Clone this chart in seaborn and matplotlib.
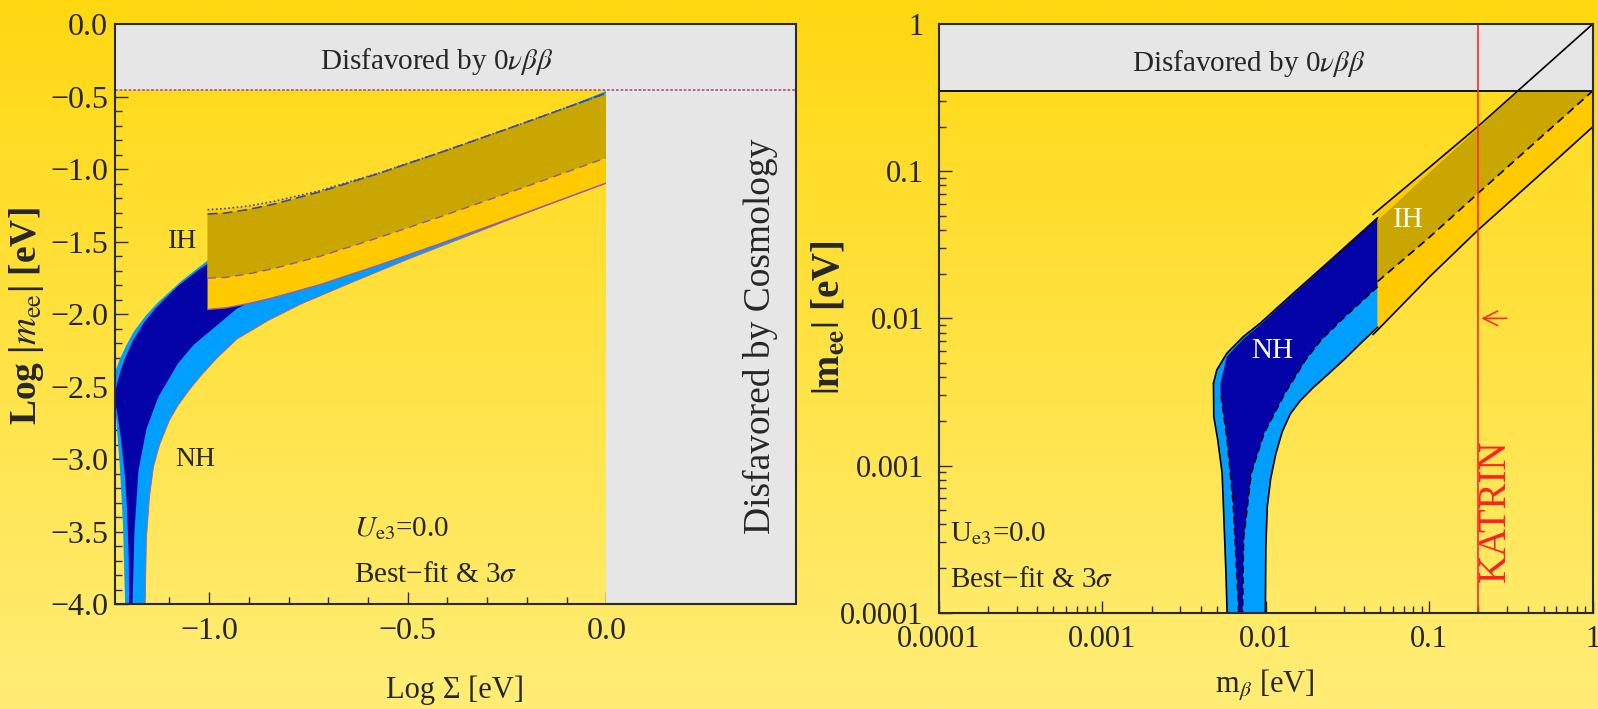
import numpy as np
import matplotlib
matplotlib.use("Agg")
import matplotlib.pyplot as plt
import seaborn as sns
from matplotlib.ticker import FixedLocator, FixedFormatter, NullFormatter, LogLocator, MultipleLocator

# ---------------- data ----------------
# Left panel: x = log10(Sigma / eV), y = log10(|m_ee| / eV)
nh_bf_max_x = [-1.239, -1.2306, -1.222, -1.2125, -1.1919, -1.164, -1.135, -1.078, -1.0235, -0.9256, -0.7676, -0.5062, -0.2175, 0.0]
nh_bf_max_y = [-2.57, -2.467, -2.382, -2.307, -2.182, -2.058, -1.958, -1.803, -1.687, -1.517, -1.299, -1.000, -0.699, -0.480]
nh_bf_minL_x = [-1.239, -1.2306, -1.222, -1.2125, -1.2075, -1.2024, -1.2005]
nh_bf_minL_y = [-2.57, -2.693, -2.857, -3.10, -3.30, -3.67, -4.3]
nh_bf_minR_x = [-1.1955, -1.193, -1.188, -1.178, -1.158, -1.128, -1.079, -1.039, -0.930, -0.770, -0.500, -0.200, 0.0]
nh_bf_minR_y = [-4.3, -4.0, -3.50, -3.08, -2.79, -2.57, -2.34, -2.21, -1.96, -1.74, -1.43, -1.13, -0.93]

nh_3s_max_x = [-1.27, -1.237, -1.225, -1.21, -1.19, -1.16, -1.13, -1.07, -1.0, -0.90, -0.77, -0.50, -0.20, 0.0]
nh_3s_max_y = [-2.55, -2.40, -2.31, -2.22, -2.12, -2.01, -1.92, -1.77, -1.62, -1.47, -1.28, -0.98, -0.68, -0.46]
nh_3s_minL_x = [-1.27, -1.237, -1.233, -1.224, -1.217, -1.2116, -1.2105]
nh_3s_minL_y = [-2.62, -2.62, -2.75, -3.09, -3.44, -4.0, -4.3]
nh_3s_minR_x = [-1.162, -1.161, -1.158, -1.150, -1.140, -1.125, -1.100, -1.079, -1.050, -1.020, -0.980, -0.930,
                -0.850, -0.770, -0.650, -0.500, -0.350, -0.200, 0.0]
nh_3s_minR_y = [-4.3, -4.0, -3.55, -3.25, -3.05, -2.90, -2.73, -2.63, -2.52, -2.42, -2.30, -2.17,
                -2.04, -1.93, -1.79, -1.62, -1.46, -1.30, -1.095]

ih_x = [-1.004, -0.9586, -0.9002, -0.839, -0.7212, -0.5725, -0.4211, -0.2134, 0.0]
ih_bf_max = [-1.308, -1.301, -1.276, -1.241, -1.155, -1.028, -0.887, -0.686, -0.475]
ih_3s_max = [-1.278, -1.270, -1.252, -1.222, -1.147, -1.025, -0.886, -0.686, -0.475]
ih_bf_min = [-1.750, -1.745, -1.720, -1.685, -1.600, -1.470, -1.330, -1.130, -0.920]
ih_3s_min = [-1.966, -1.955, -1.925, -1.885, -1.795, -1.660, -1.515, -1.310, -1.094]

bound_0vbb_log = -0.45      # log10 of 0vbb bound
cosmo_log = 0.0             # log10 Sigma cosmology bound

# Right panel: x = m_beta [eV], y = |m_ee| [eV]
r_nh3_up_x = [4.78e-3, 5.01e-3, 5.77e-3, 7.28e-3, 9.23e-3, 1.47e-2, 2.51e-2, 4.83e-2]
r_nh3_up_y = [3.62e-3, 4.46e-3, 5.79e-3, 7.52e-3, 9.27e-3, 1.48e-2, 2.51e-2, 4.83e-2]
r_nh3_loR_x = [4.83e-2, 3.80e-2, 3.01e-2, 2.40e-2, 1.95e-2, 1.62e-2, 1.41e-2, 1.26e-2, 1.15e-2, 1.07e-2,
               1.02e-2, 1.00e-2, 9.93e-3, 9.91e-3]
r_nh3_loR_y = [8.71e-3, 6.76e-3, 5.25e-3, 4.17e-3, 3.39e-3, 2.75e-3, 2.24e-3, 1.70e-3, 1.20e-3, 8.13e-4,
               5.25e-4, 2.82e-4, 1.0e-4, 5.0e-5]
r_nh3_loL_x = [5.77e-3, 5.79e-3, 5.70e-3, 5.55e-3, 5.40e-3, 5.08e-3, 4.80e-3, 4.78e-3]
r_nh3_loL_y = [5.0e-5, 1.02e-4, 1.85e-4, 4.06e-4, 8.87e-4, 1.49e-3, 2.15e-3, 3.62e-3]

r_nhbf_up_x = [5.27e-3, 5.50e-3, 5.77e-3, 7.28e-3, 9.23e-3, 1.47e-2, 2.51e-2, 4.83e-2]
r_nhbf_up_y = [3.63e-3, 4.37e-3, 5.50e-3, 7.24e-3, 9.02e-3, 1.45e-2, 2.48e-2, 4.79e-2]
r_nhbf_loR_x = [4.83e-2, 2.90e-2, 2.18e-2, 1.75e-2, 1.31e-2, 9.77e-3, 8.15e-3, 7.31e-3, 7.21e-3, 7.19e-3]
r_nhbf_loR_y = [1.64e-2, 9.75e-3, 7.13e-3, 5.21e-3, 3.10e-3, 1.66e-3, 8.87e-4, 3.13e-4, 1.02e-4, 5.0e-5]
r_nhbf_loL_x = [6.79e-3, 6.81e-3, 6.32e-3, 5.79e-3, 5.27e-3]
r_nhbf_loL_y = [5.0e-5, 1.02e-4, 5.26e-4, 1.49e-3, 3.16e-3]

r_ihbf_top_x = [4.83e-2, 0.1, 0.316, 1.0]
r_ihbf_top_y = [4.62e-2, 9.77e-2, 0.313, 0.989]
r_ihbf_lo_x = [4.83e-2, 0.1, 0.199, 0.447, 1.0]
r_ihbf_lo_y = [1.78e-2, 3.55e-2, 7.08e-2, 0.158, 0.351]
r_ih3_top_x = [4.52e-2, 4.83e-2, 0.1, 0.199, 1.0]
r_ih3_top_y = [5.07e-2, 5.40e-2, 0.106, 0.202, 1.0]
r_ih3_lo_x = [4.52e-2, 4.83e-2, 0.1, 0.199, 0.447, 1.0]
r_ih3_lo_y = [7.76e-3, 8.34e-3, 1.91e-2, 3.99e-2, 8.91e-2, 0.200]

bound_0vbb = 0.35
katrin = 0.2
katrin_arrow_from = 0.31
katrin_arrow_y = 0.01

left_yticks = [0.0, -0.5, -1.0, -1.5, -2.0, -2.5, -3.0, -3.5, -4.0]
left_ytick_labels = ["0.0", "\u22120.5", "\u22121.0", "\u22121.5", "\u22122.0", "\u22122.5", "\u22123.0", "\u22123.5", "\u22124.0"]
left_xticks = [-1.0, -0.5, 0.0]
left_xtick_labels = ["\u22121.0", "\u22120.5", "0.0"]
right_ticks = [1e-4, 1e-3, 1e-2, 1e-1, 1.0]
right_tick_labels = ["0.0001", "0.001", "0.01", "0.1", "1"]

# ---------------- style ----------------
sns.set_theme(style="white")
plt.rcParams["font.family"] = ["Liberation Serif", "DejaVu Serif"]
plt.rcParams["mathtext.fontset"] = "stix"

DARK_BLUE = "#0303A8"
LIGHT_BLUE = "#009EFF"
GOLD = "#C9A600"
ORANGE = "#FFCB00"
GREY = "#E6E6E6"
SPINE = "#2A2A2A"

fig = plt.figure(figsize=(15.98, 7.09), dpi=100)

# background gradient
bg = fig.add_axes([0, 0, 1, 1], zorder=-10)
top = np.array([255, 216, 18]) / 255.0
bot = np.array([255, 237, 118]) / 255.0
t = np.linspace(0, 1, 256)[:, None]
grad = (top[None, :] * (1 - t) + bot[None, :] * t)[:, None, :]
bg.imshow(grad, aspect="auto", extent=[0, 1, 0, 1], origin="upper")
bg.set_axis_off()

ax1 = fig.add_axes([0.07197, 0.1474, 0.4260, 0.8183])
ax2 = fig.add_axes([0.5876, 0.1358, 0.4091, 0.8303])
for ax in (ax1, ax2):
    ax.set_facecolor("none")
    for s in ax.spines.values():
        s.set_color(SPINE)
        s.set_linewidth(1.5)
        s.set_visible(True)
        s.set_zorder(10)

# ---------------- left panel ----------------
ax1.fill(nh_3s_max_x + nh_3s_minR_x[::-1] + nh_3s_minL_x[::-1],
         nh_3s_max_y + nh_3s_minR_y[::-1] + nh_3s_minL_y[::-1], color=LIGHT_BLUE, lw=0, zorder=2)
ax1.fill(nh_bf_max_x + nh_bf_minR_x[::-1] + nh_bf_minL_x[::-1],
         nh_bf_max_y + nh_bf_minR_y[::-1] + nh_bf_minL_y[::-1], color=DARK_BLUE, lw=0, zorder=2.5)
ax1.fill(ih_x + ih_x[::-1], ih_3s_max + ih_3s_min[::-1], color=ORANGE, lw=0, zorder=3)
ax1.fill(ih_x + ih_x[::-1], ih_bf_max + ih_bf_min[::-1], color=GOLD, lw=0, zorder=3.5)

sns.lineplot(x=nh_3s_minR_x, y=nh_3s_minR_y, ax=ax1, sort=False, estimator=None, color="#C05A7A", lw=0.6, zorder=3.2)
sns.lineplot(x=ih_x, y=ih_3s_min, ax=ax1, sort=False, estimator=None, color="#9A5AB0", lw=1.0, zorder=4)
sns.lineplot(x=ih_x, y=ih_bf_min, ax=ax1, sort=False, estimator=None, color="#8A5AB0", lw=1.0, linestyle=(0, (6, 4)), zorder=4)
sns.lineplot(x=ih_x, y=ih_bf_max, ax=ax1, sort=False, estimator=None, color="#3A4AB0", lw=1.2, linestyle=(0, (6, 3)), zorder=4)
sns.lineplot(x=ih_x, y=ih_3s_max, ax=ax1, sort=False, estimator=None, color="#3A4AB0", lw=1.2, linestyle=(0, (1, 1.5)), zorder=4)

ax1.axhspan(bound_0vbb_log, 0.0, color=GREY, lw=0, zorder=5)
ax1.axvspan(cosmo_log, 0.477, color=GREY, lw=0, zorder=5)
ax1.axhline(bound_0vbb_log, color="#B05C8C", lw=1.3, linestyle=(0, (1.5, 1)), zorder=6)

ax1.set_xlim(-1.237, 0.477)
ax1.set_ylim(-4.0, 0.0)
ax1.xaxis.set_major_locator(FixedLocator(left_xticks))
ax1.xaxis.set_major_formatter(FixedFormatter(left_xtick_labels))
ax1.xaxis.set_minor_locator(MultipleLocator(0.1))
ax1.yaxis.set_major_locator(FixedLocator(left_yticks))
ax1.yaxis.set_major_formatter(FixedFormatter(left_ytick_labels))
ax1.yaxis.set_minor_locator(MultipleLocator(0.1))
ax1.tick_params(axis="both", which="both", direction="in", color=SPINE, width=1.0,
                top=False, right=False, left=True, bottom=True, zorder=11)
ax1.tick_params(axis="both", which="major", length=9)
ax1.tick_params(axis="both", which="minor", length=5)
ax1.tick_params(axis="y", which="major", labelsize=23, pad=5)
ax1.tick_params(axis="x", which="major", labelsize=23, pad=9)
ax1.set_xlabel("")
ax1.set_ylabel("")

ax1.text(-0.427, -0.257, r"Disfavored by 0$\nu\beta\beta$", fontsize=21, ha="center", va="center", zorder=7)
ax1.text(0.387, -2.15, "Disfavored by Cosmology", fontsize=27, rotation=90, ha="center", va="center", zorder=7)
ax1.text(-1.066, -1.496, "IH", fontsize=20, ha="center", va="center", zorder=7)
ax1.text(-1.034, -3.0, "NH", fontsize=20, ha="center", va="center", zorder=7)
ax1.text(-0.636, -3.474, r"$U_{\rm e3}$=0.0", fontsize=21, ha="left", va="center", zorder=7)
ax1.text(-0.636, -3.797, "Best\u2212fit & 3$\\sigma$", fontsize=21, ha="left", va="center", zorder=7)

fig.text(0.0163, 0.554, r"Log |$m_{\rm ee}$| [eV]", rotation=90, fontsize=27, fontweight="bold",
         ha="center", va="center")
fig.text(0.2847, 0.0268, "Log \u03a3 [eV]", fontsize=22, ha="center", va="center")

# ---------------- right panel ----------------
ax2.set_xscale("log")
ax2.set_yscale("log")
ax2.fill(r_nh3_up_x + r_nh3_loR_x + r_nh3_loL_x, r_nh3_up_y + r_nh3_loR_y + r_nh3_loL_y,
         color=LIGHT_BLUE, lw=0, zorder=2)
ax2.fill(r_nhbf_up_x + r_nhbf_loR_x + r_nhbf_loL_x, r_nhbf_up_y + r_nhbf_loR_y + r_nhbf_loL_y,
         color=DARK_BLUE, lw=0, zorder=2.5)
ax2.fill(r_ih3_top_x[1:] + r_ih3_lo_x[1:][::-1], r_ih3_top_y[1:] + r_ih3_lo_y[1:][::-1],
         color=ORANGE, lw=0, zorder=3)
ax2.fill(r_ihbf_top_x + r_ihbf_lo_x[::-1], r_ihbf_top_y + r_ihbf_lo_y[::-1], color=GOLD, lw=0, zorder=3.5)

# NH outlines
sns.lineplot(x=r_nh3_up_x, y=r_nh3_up_y, ax=ax2, sort=False, estimator=None, color="black", lw=1.2, zorder=4)
sns.lineplot(x=r_nh3_loR_x, y=r_nh3_loR_y, ax=ax2, sort=False, estimator=None, color="black", lw=1.2, zorder=4)
sns.lineplot(x=r_nh3_loL_x, y=r_nh3_loL_y, ax=ax2, sort=False, estimator=None, color="black", lw=1.2, zorder=4)
sns.lineplot(x=r_nhbf_loR_x, y=r_nhbf_loR_y, ax=ax2, sort=False, estimator=None, color="black", lw=1.0,
             linestyle=(0, (5, 3)), zorder=4)
sns.lineplot(x=r_nhbf_loL_x, y=r_nhbf_loL_y, ax=ax2, sort=False, estimator=None, color="black", lw=1.0,
             linestyle=(0, (5, 3)), zorder=4)

ax2.axhspan(bound_0vbb, 1.0, color=GREY, lw=0, zorder=5)
ax2.axhline(bound_0vbb, color="black", lw=1.3, zorder=6)

# IH outlines
sns.lineplot(x=r_ih3_top_x, y=r_ih3_top_y, ax=ax2, sort=False, estimator=None, color="black", lw=1.2, zorder=6)
sns.lineplot(x=r_ih3_lo_x, y=r_ih3_lo_y, ax=ax2, sort=False, estimator=None, color="black", lw=1.2, zorder=6)
sns.lineplot(x=r_ihbf_lo_x, y=r_ihbf_lo_y, ax=ax2, sort=False, estimator=None, color="black", lw=1.2,
             linestyle=(0, (5, 3)), zorder=6)

ax2.axvline(katrin, color="#FF2A2A", lw=1.2, zorder=7)
ax2.annotate("", xy=(katrin, katrin_arrow_y), xytext=(katrin_arrow_from, katrin_arrow_y),
             arrowprops=dict(arrowstyle="->", color="#FF2A2A", lw=1.2, mutation_scale=26), zorder=7)

ax2.set_xlim(1e-4, 1.0)
ax2.set_ylim(1e-4, 1.0)
for axis in (ax2.xaxis, ax2.yaxis):
    axis.set_major_locator(FixedLocator(right_ticks))
    axis.set_major_formatter(FixedFormatter(right_tick_labels))
    axis.set_minor_locator(LogLocator(base=10, subs=np.arange(2, 10), numticks=20))
    axis.set_minor_formatter(NullFormatter())
ax2.tick_params(axis="both", which="both", direction="in", color=SPINE, width=1.0,
                top=False, right=False, left=True, bottom=True)
ax2.tick_params(axis="both", which="major", length=9)
ax2.tick_params(axis="both", which="minor", length=5)
ax2.tick_params(axis="y", which="major", labelsize=22, pad=11)
ax2.tick_params(axis="x", which="major", labelsize=22, pad=9)
ax2.set_xlabel("")
ax2.set_ylabel("")

ax2.text(0.00778, 0.543, r"Disfavored by 0$\nu\beta\beta$", fontsize=21, ha="center", va="center", zorder=8)
ax2.text(0.01087, 0.00603, "NH", color="white", fontsize=21, ha="center", va="center", zorder=8)
ax2.text(0.0746, 0.0466, "IH", color="white", fontsize=21, ha="center", va="center", zorder=8)
ax2.text(1.17e-4, 3.43e-4, r"U$_{\rm e3}$=0.0", fontsize=21, ha="left", va="center", zorder=8)
ax2.text(1.17e-4, 1.67e-4, "Best\u2212fit & 3$\\sigma$", fontsize=21, ha="left", va="center", zorder=8)
ax2.text(0.253, 4.93e-4, "KATRIN", color="#FF2020", fontsize=28, rotation=90, ha="center", va="center", zorder=8)

fig.text(0.5188, 0.5515, r"$|\mathbf{m}_{\mathbf{ee}}|$ [eV]", rotation=90, fontsize=28, fontweight="bold",
         ha="center", va="center")
fig.text(0.7916, 0.033, r"m$_{\beta}$ [eV]", fontsize=22, ha="center", va="center")

fig.savefig("out.png", dpi=100)
